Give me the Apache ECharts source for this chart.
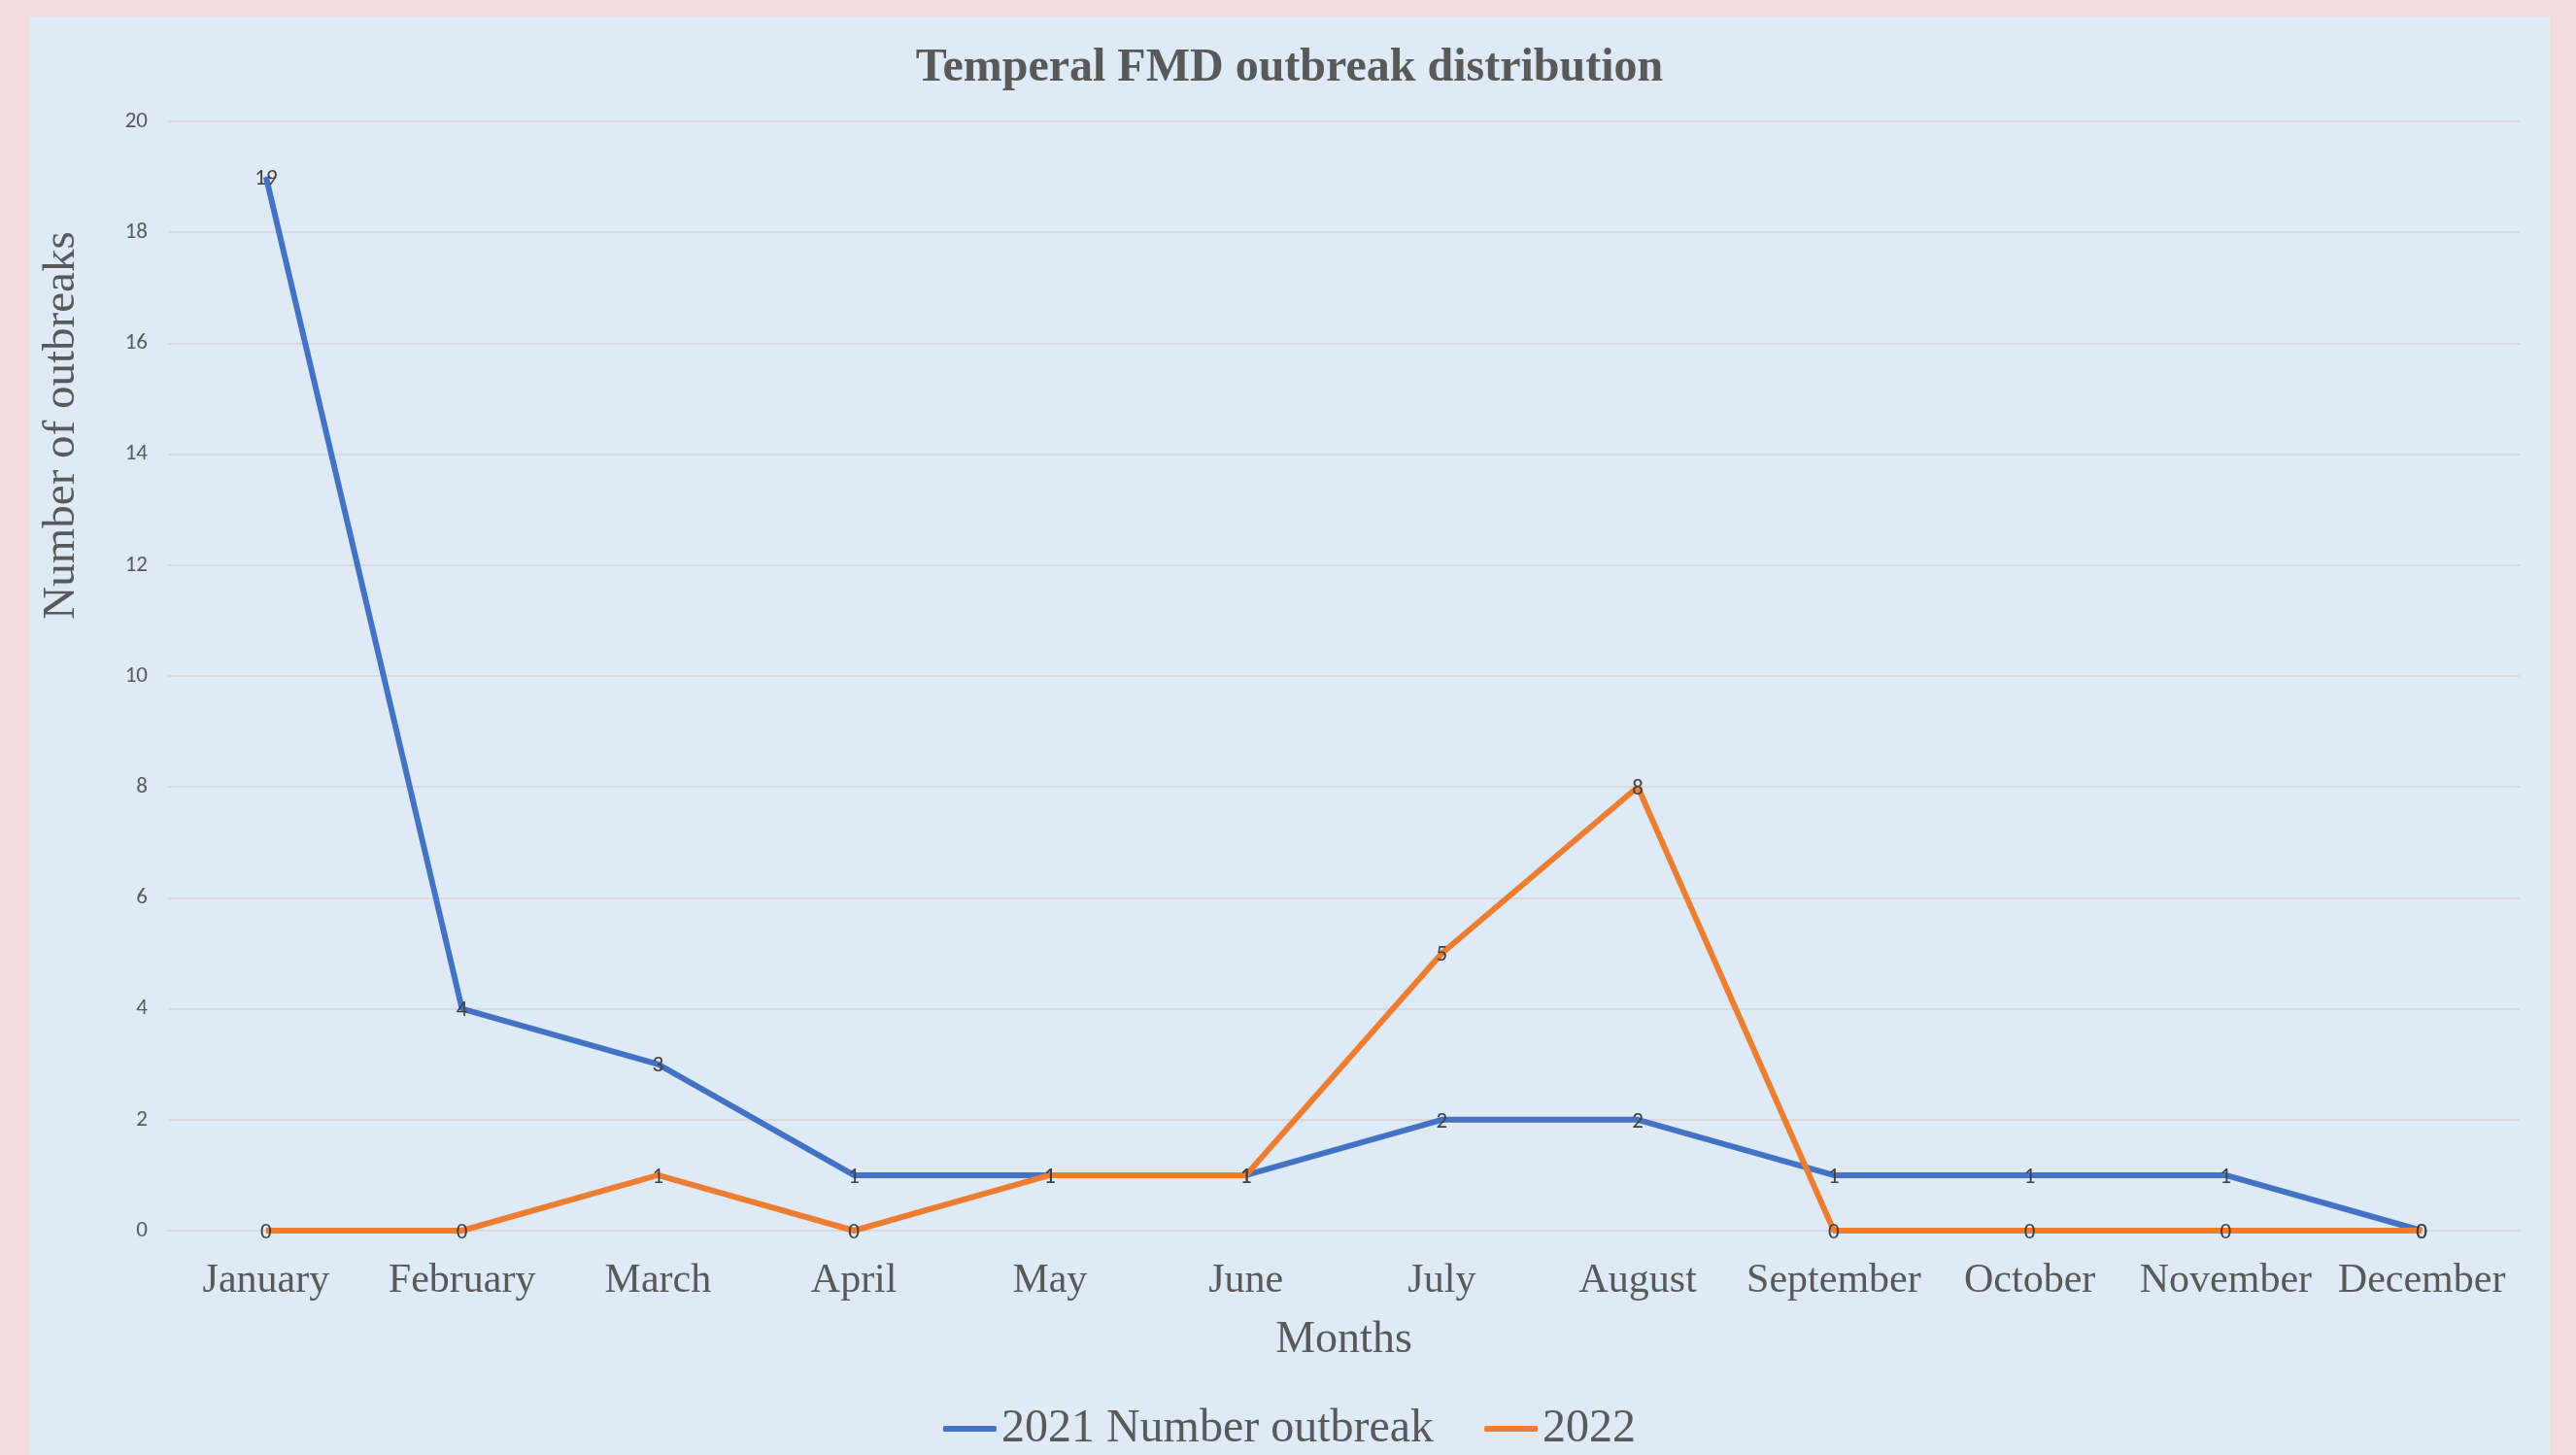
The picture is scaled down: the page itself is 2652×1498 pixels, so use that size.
<!DOCTYPE html>
<html>
<head>
<meta charset="utf-8">
<script src="https://cdn.jsdelivr.net/npm/echarts@6/dist/echarts.min.js"></script>
<style>
  html, body { margin: 0; padding: 0; background: #F2DCDB; }
  #chart {
    position: absolute;
    left: 30px; top: 17px;
    width: 2595px; height: 1481px;
    background: #DEEAF6;
  }
</style>
</head>
<body>
<div id="chart"></div>
<script>
// Months on the x axis
const months = ["January", "February", "March", "April", "May", "June",
  "July", "August", "September", "October", "November", "December"];

// Outbreak counts per month
const outbreaks2021 = [19, 4, 3, 1, 1, 1, 2, 2, 1, 1, 1, 0];
const outbreaks2022 = [0, 0, 1, 0, 1, 1, 5, 8, 0, 0, 0, 0];

const seriesNames = ["2021 Number outbreak", "2022"];

const serif = '"Liberation Serif", "Times New Roman", serif';
const sans = 'Carlito, Lato, "Noto Sans", sans-serif';

const chart = echarts.init(document.getElementById("chart"));

const makeSeries = (name, data, color) => ({
  name: name,
  type: "line",
  data: data,
  symbol: "circle",
  symbolSize: 1,
  showSymbol: true,
  lineStyle: { color: color, width: 6 },
  itemStyle: { color: color },
  label: {
    show: true,
    position: "inside",
    offset: [0, 2],
    fontFamily: sans,
    fontSize: 23,
    color: "#404040"
  },
  emphasis: { disabled: true },
  animation: false
});

const option = {
  title: {
    text: "Temperal FMD outbreak distribution",
    left: "center",
    top: 25,
    textStyle: { fontFamily: serif, fontWeight: "bold", fontSize: 48, color: "#595959" }
  },
  grid: { left: 143, right: 31, top: 108, bottom: 231 },
  legend: {
    data: seriesNames,
    top: 1425,
    left: "center",
    icon: "roundRect",
    itemWidth: 55,
    itemHeight: 6,
    itemGap: 52,
    textStyle: { fontFamily: serif, fontSize: 48, color: "#595959" }
  },
  xAxis: {
    type: "category",
    data: months,
    boundaryGap: true,
    axisLine: { show: true, lineStyle: { color: "#D9D9D9", width: 2 } },
    axisTick: { show: false },
    axisLabel: { fontFamily: serif, fontSize: 42, color: "#595959", margin: 31, interval: 0 },
    name: "Months",
    nameLocation: "middle",
    nameGap: 90,
    nameTextStyle: { fontFamily: serif, fontSize: 46, color: "#595959" }
  },
  yAxis: {
    type: "value",
    min: 0,
    max: 20,
    interval: 2,
    axisLine: { show: false },
    axisTick: { show: false },
    axisLabel: { fontFamily: sans, fontSize: 23, color: "#595959", margin: 21 },
    splitLine: { lineStyle: { color: "#D9D9D9", width: 2 } }
  },
  graphic: [{
    type: "text",
    x: 34,
    y: 421,
    rotation: Math.PI / 2,
    style: {
      text: "Number of outbreaks",
      fontFamily: serif,
      fontSize: 47,
      fill: "#595959",
      textAlign: "center",
      textVerticalAlign: "middle"
    }
  }],
  series: [
    makeSeries(seriesNames[0], outbreaks2021, "#4472C4"),
    makeSeries(seriesNames[1], outbreaks2022, "#ED7D31")
  ]
};

chart.setOption(option);
</script>
</body>
</html>
